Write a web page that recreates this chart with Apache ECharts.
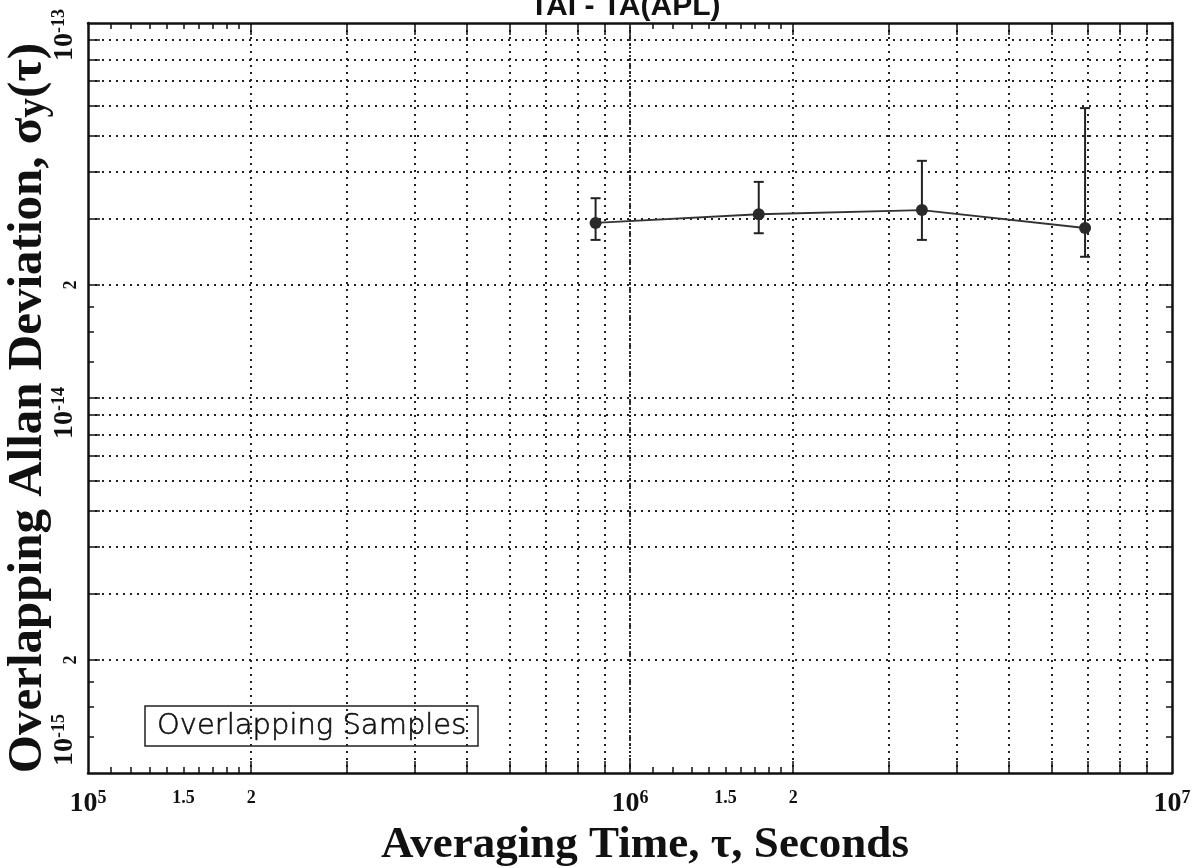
<!DOCTYPE html>
<html>
<head>
<meta charset="utf-8">
<script src="https://cdn.jsdelivr.net/npm/echarts@6/dist/echarts.min.js"></script>
<style>
  html, body { margin: 0; padding: 0; background: #fff; }
  #chart { width: 1201px; height: 868px; }
</style>
</head>
<body>
<div id="chart"></div>
<script>
// ---------------- data ----------------
const tau = [864000, 1728000, 3456000, 6912000];          // averaging time, s
const adev = [2.93e-14, 3.09e-14, 3.17e-14, 2.84e-14];     // overlapping Allan deviation
const errLow = [2.64e-14, 2.75e-14, 2.64e-14, 2.38e-14];   // lower error bound
const errHigh = [3.41e-14, 3.77e-14, 4.29e-14, 5.93e-14];  // upper error bound

// ---------------- axes: ticks / labels ----------------
const xRange = [1e5, 1e7];
const yRange = [1e-15, 1e-13];
const xMinorTicks = [1.1e5, 1.2e5, 1.3e5, 1.4e5, 1.5e5, 1.6e5, 1.7e5, 1.8e5, 1.9e5,
                     1.1e6, 1.2e6, 1.3e6, 1.4e6, 1.5e6, 1.6e6, 1.7e6, 1.8e6, 1.9e6];
const xGridTicks = [2e5, 3e5, 4e5, 5e5, 6e5, 7e5, 8e5, 9e5, 1e6,
                    2e6, 3e6, 4e6, 5e6, 6e6, 7e6, 8e6, 9e6];
const yMinorTicks = [1.25e-15, 1.5e-15, 1.75e-15, 1.25e-14, 1.5e-14, 1.75e-14];
const yGridTicks = [2e-15, 3e-15, 4e-15, 5e-15, 6e-15, 7e-15, 8e-15, 9e-15, 1e-14,
                    2e-14, 3e-14, 4e-14, 5e-14, 6e-14, 7e-14, 8e-14, 9e-14];
const xDecadeLines = [1e6];
const yDecadeLines = [1e-14];
const xLabelValues = [1e5, 1.5e5, 2e5, 1e6, 1.5e6, 2e6, 1e7];
const xTickLabels = ['10^5', '1.5', '2', '10^6', '1.5', '2', '10^7'];
const yLabelValues = [1e-15, 2e-15, 1e-14, 2e-14, 1e-13];
const yTickLabels = ['10^-15', '2', '10^-14', '2', '10^-13'];

const chartTitle = 'TAI - TA(APL)';
const boxText = 'Overlapping Samples';
const xName = 'Averaging Time, \u03C4, Seconds';
const yNameMain = 'Overlapping Allan Deviation, \u03C3';
const yNameSub = 'y';
const yNameTail = '(\u03C4)';

// ---------------- helpers ----------------
function idxOf(values, v) {
  for (let i = 0; i < values.length; i++) {
    if (Math.abs(values[i] - v) / values[i] < 1e-6) return i;
  }
  return -1;
}
function richLabel(str, pre, post) {
  let body;
  if (str.indexOf('^') >= 0) {
    const parts = str.split('^');
    body = '{b|' + parts[0] + '}{sup|' + parts[1] + '}';
  } else {
    body = '{s|' + str + '}';
  }
  return (pre ? '{' + pre + '| }' : '') + body + (post ? '{' + post + '| }' : '');
}
const SERIF = "'Liberation Serif', 'DejaVu Serif', serif";
const labelRich = {
  b: { fontFamily: SERIF, fontWeight: 'bold', fontSize: 28, lineHeight: 30, color: '#111' },
  sup: { fontFamily: SERIF, fontWeight: 'bold', fontSize: 18, lineHeight: 18, verticalAlign: 'top', color: '#111' },
  s: { fontFamily: SERIF, fontWeight: 'bold', fontSize: 18, lineHeight: 18, color: '#111' },
  g24: { width: 24 }, g30: { width: 30 }, g66: { width: 66 }
};
// extra spacing of the rotated decade labels, per label index
const yLabelPre = { 0: 'g66' };
const yLabelPost = { 2: 'g30', 4: 'g24' };

const AXIS_COLOR = '#111';
const gridLineStyle = { color: '#222', width: 2, type: [2, 5] };

function logAxis(range, extra) {
  return Object.assign({
    type: 'log', logBase: 10, min: range[0], max: range[1],
    axisLine: { show: false, onZero: false },
    axisTick: { show: false },
    axisLabel: { show: false },
    splitLine: { show: false },
    minorTick: { show: false },
    minorSplitLine: { show: false }
  }, extra);
}
function mainLine() { return { show: true, onZero: false, lineStyle: { color: AXIS_COLOR, width: 2.5 } }; }
function ticks(values, len) {
  return { show: true, inside: true, length: len, customValues: values,
           lineStyle: { color: AXIS_COLOR, width: 1.5 } };
}

const xAxes = [
  logAxis(xRange, {
    position: 'bottom',
    axisLine: mainLine(),
    axisTick: ticks(xMinorTicks, 6),
    axisLabel: {
      show: true, customValues: xLabelValues, margin: 16,
      showMinLabel: true, showMaxLabel: true,
      formatter: function (v) { const i = idxOf(xLabelValues, v); return i < 0 ? '' : richLabel(xTickLabels[i]); },
      rich: labelRich
    },
    name: xName, nameLocation: 'middle', nameGap: 40,
    nameTextStyle: { fontFamily: SERIF, fontWeight: 'bold', fontSize: 45, color: '#111', padding: [0, 0, 0, 30] }
  }),
  logAxis(xRange, {
    position: 'bottom',
    axisTick: ticks(xGridTicks, 12),
    splitLine: { show: true, lineStyle: gridLineStyle }
  }),
  logAxis(xRange, { position: 'top', axisLine: mainLine(), axisTick: ticks(xMinorTicks, 6) }),
  logAxis(xRange, { position: 'top', axisTick: ticks(xGridTicks, 12) })
];

const yAxes = [
  logAxis(yRange, {
    position: 'left',
    axisLine: mainLine(),
    axisTick: ticks(yMinorTicks, 6),
    axisLabel: {
      show: true, customValues: yLabelValues, margin: 8, rotate: 90,
      showMinLabel: true, showMaxLabel: true,
      formatter: function (v) {
        const i = idxOf(yLabelValues, v);
        return i < 0 ? '' : richLabel(yTickLabels[i], yLabelPre[i], yLabelPost[i]);
      },
      rich: labelRich
    },
    name: yNameMain + '{sub|' + yNameSub + '}' + yNameTail,
    nameLocation: 'middle', nameGap: 35, nameRotate: 90, nameMoveOverlap: false,
    nameTextStyle: {
      fontFamily: SERIF, fontWeight: 'bold', fontSize: 49, color: '#111', padding: [0, 20, 0, 0],
      rich: { sub: { fontFamily: SERIF, fontWeight: 'bold', fontSize: 39, verticalAlign: 'bottom', color: '#111' } }
    }
  }),
  logAxis(yRange, {
    position: 'left',
    axisTick: ticks(yGridTicks, 12),
    splitLine: { show: true, lineStyle: gridLineStyle }
  }),
  logAxis(yRange, { position: 'right', axisLine: mainLine(), axisTick: ticks(yMinorTicks, 6) }),
  logAxis(yRange, { position: 'right', axisTick: ticks(yGridTicks, 12) })
];

const lineData = tau.map((t, i) => [t, adev[i]]);
const errData = tau.map((t, i) => [t, errLow[i], errHigh[i]]);
const decadeMarks = xDecadeLines.map(v => ({ xAxis: v })).concat(yDecadeLines.map(v => ({ yAxis: v })));

const option = {
  animation: false,
  backgroundColor: '#fff',
  title: [
    { text: chartTitle, left: 525, top: -13,
      textStyle: { fontFamily: "'Liberation Sans', Arial, sans-serif", fontWeight: 'bold', fontSize: 30, color: '#111' } },
    { text: boxText, left: 145, top: 706, padding: [5, 12, 5, 12],
      borderColor: '#222', borderWidth: 1.5,
      textStyle: { fontFamily: "'DejaVu Sans', sans-serif", fontWeight: 200, fontSize: 29, lineHeight: 30, color: '#111',
                   textBorderColor: '#111', textBorderWidth: 0.6 } }
  ],
  grid: { left: 88, right: 29, top: 23, bottom: 95, containLabel: false, outerBoundsMode: 'none' },
  xAxis: xAxes,
  yAxis: yAxes,
  series: [
    {
      type: 'custom', name: 'error', xAxisIndex: 0, yAxisIndex: 0, z: 3,
      data: errData,
      encode: { x: 0, y: [1, 2] },
      renderItem: function (params, api) {
        const x = api.value(0);
        const pLo = api.coord([x, api.value(1)]);
        const pHi = api.coord([x, api.value(2)]);
        const w = 5;
        const style = { stroke: '#222', lineWidth: 2 };
        return { type: 'group', children: [
          { type: 'line', shape: { x1: pHi[0], y1: pHi[1], x2: pLo[0], y2: pLo[1] }, style: style },
          { type: 'line', shape: { x1: pHi[0] - w, y1: pHi[1], x2: pHi[0] + w, y2: pHi[1] }, style: style },
          { type: 'line', shape: { x1: pLo[0] - w, y1: pLo[1], x2: pLo[0] + w, y2: pLo[1] }, style: style }
        ] };
      }
    },
    {
      type: 'line', name: 'adev', xAxisIndex: 0, yAxisIndex: 0, z: 4,
      data: lineData,
      symbol: 'circle', symbolSize: 12,
      itemStyle: { color: '#2a2a2a' },
      lineStyle: { color: '#333', width: 1.8 },
      markLine: {
        silent: true, symbol: ['none', 'none'], label: { show: false },
        lineStyle: { color: '#222', width: 1.8, type: [2, 2] },
        data: decadeMarks
      }
    }
  ]
};

const chart = echarts.init(document.getElementById('chart'), null, { renderer: 'canvas' });
chart.setOption(option);
</script>
</body>
</html>
